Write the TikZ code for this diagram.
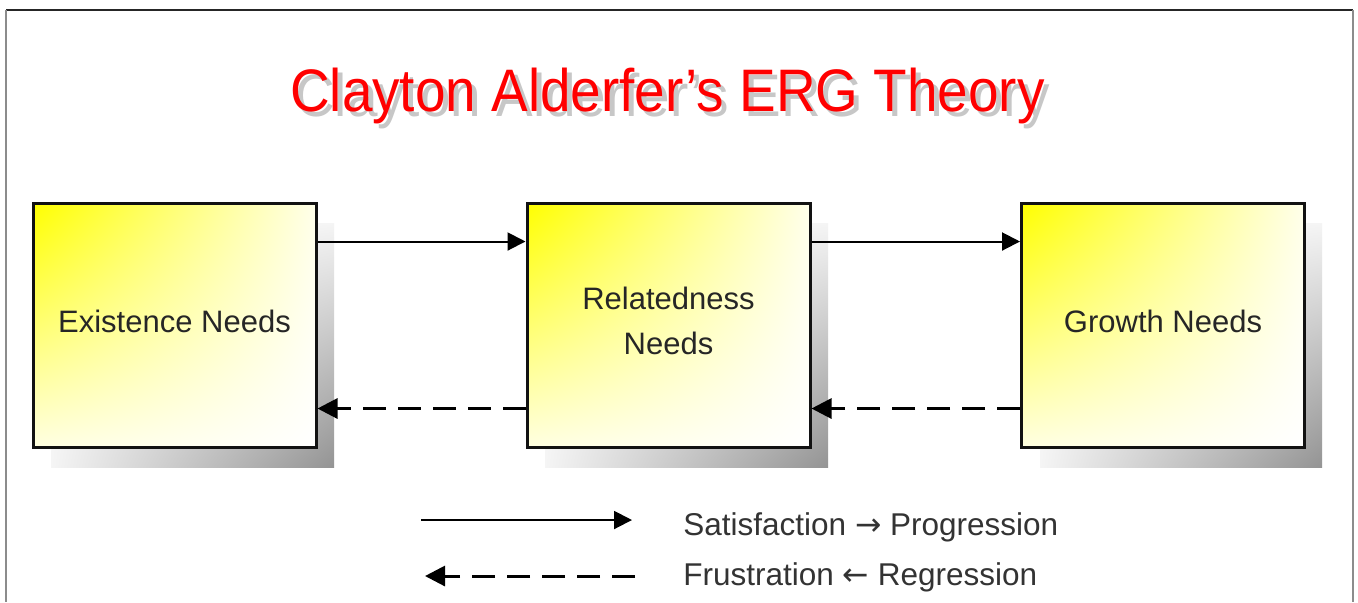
\documentclass[tikz,border=0pt]{standalone}
\usepackage{fontspec}
\setmainfont{Liberation Sans}
\newfontfamily\arrowfont{DejaVu Sans}
\usepackage{graphicx}
\usetikzlibrary{arrows.meta,calc,shadings}
\begin{document}
\begin{tikzpicture}[x=0.5pt,y=-0.5pt,
  needbox/.style={draw=black!93, line width=1.5pt, minimum width=141.5pt, minimum height=122pt, inner sep=0pt,
    upper left=yellow, upper right=yellow!8, lower left=yellow!12, lower right=white,
    font=\fontsize{15.5}{22.5}\selectfont, text=black!85, align=center, text depth=4pt},
  shadowbox/.style={upper left=white, upper right=black!4, lower left=black!4, lower right=black!42},
  prog/.style={line width=1pt, -{Triangle[length=9pt,width=9pt]}},
  regr/.style={line width=1.5pt, dash pattern=on 11.5pt off 6pt, -{Triangle[length=10pt,width=10pt]}},
  legtext/.style={font=\fontsize{15.75}{18}\selectfont, text=black!80, anchor=base west, inner sep=0pt},
  titletext/.style={font=\fontsize{30}{36}\selectfont, anchor=base, inner sep=0pt},
]
\useasboundingbox (0,0) rectangle (1358,602);
\fill[white] (0,0) rectangle (1358,602);
% frame
\draw[black!85, line width=1pt] (6,10) -- (1353,10);
\draw[black!45, line width=1pt] (6,10) -- (6,602);
\draw[black!45, line width=1pt] (1353,10) -- (1353,602);
% title
\node[titletext, text=black!22] (titleshadow) at (672.5,116) {\scalebox{0.915}[1]{Clayton Alderfer’s ERG Theory}};
\node[titletext, text=red] (title) at (667.5,111) {\scalebox{0.915}[1]{Clayton Alderfer’s ERG Theory}};
% shadows
\shade[shadowbox] (51,223) rectangle (334,467);
\shade[shadowbox] (545,223) rectangle (828,467);
\shade[shadowbox] (1040,223) rectangle (1322,467);
% boxes
\node[needbox] (E) at (174.5,325) {Existence Needs};
\node[needbox] (R) at (668.5,325) {Relatedness\\Needs};
\node[needbox] (G) at (1163,325) {Growth Needs};
% connectors
\draw[prog] ($(E.north east)+(0,40)$) -- ($(R.north west)+(0,40)$);
\draw[prog] ($(R.north east)+(0,40)$) -- ($(G.north west)+(0,40)$);
\draw[regr] ($(R.south west)+(0,-40)$) -- ($(E.south east)+(0,-40)$);
\draw[regr] ($(G.south west)+(0,-40)$) -- ($(R.south east)+(0,-40)$);
% legend
\coordinate (s0) at (421,520);
\coordinate (s1) at (632,520);
\draw[prog] (s0) -- (s1);
\coordinate (f0) at (635,576);
\coordinate (f1) at (425,576);
\draw[regr] (f0) -- (f1);
\node[legtext] (sat) at (683,535) {Satisfaction {\arrowfont →} Progression};
\node[legtext] (fru) at (683,585) {Frustration {\arrowfont ←} Regression};
\end{tikzpicture}
\end{document}
